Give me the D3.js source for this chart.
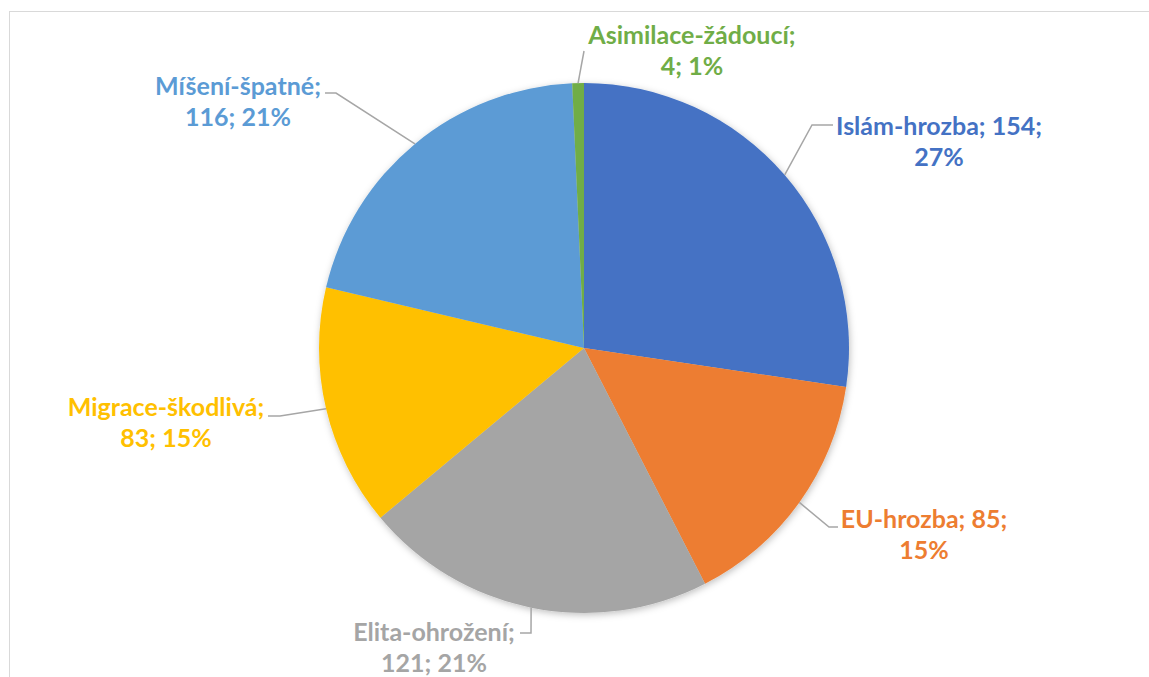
<!DOCTYPE html>
<html lang="cs">
<head>
<meta charset="utf-8">
<title>Pie</title>
<script src="https://d3js.org/d3.v7.min.js"></script>
<style>
  body { margin: 0; background: #fff; }
  text { font-family: Lato, "Open Sans", sans-serif; font-weight: 700; }
</style>
</head>
<body>
<script>

// data
const categories = ["Islám-hrozba", "EU-hrozba", "Elita-ohrožení", "Migrace-škodlivá", "Míšení-špatné", "Asimilace-žádoucí"];
const values = [154, 85, 121, 83, 116, 4];
const colors = ["#4472C4", "#ED7D31", "#A5A5A5", "#FFC000", "#5B9BD5", "#70AD47"];

// label layout: line1, line2, text centre x, first baseline y, elbow x, elbow y, end x
const labelLines = [
  ["Islám-hrozba; 154;", "27%"],
  ["EU-hrozba; 85;", "15%"],
  ["Elita-ohrožení;", "121; 21%"],
  ["Migrace-škodlivá;", "83; 15%"],
  ["Míšení-špatné;", "116; 21%"],
  ["Asimilace-žádoucí;", "4; 1%"]
];
const labelLayout = [
  {x: 939, y: 135, ex: 812, ey: 125, tx: 833},
  {x: 924, y: 528, ex: 829, ey: 527, tx: 838},
  {x: 434, y: 641, ex: 531, ey: 633, tx: 520},
  {x: 166, y: 416, ex: 280, ey: 416, tx: 268},
  {x: 238, y: 95,  ex: 336, ey: 93,  tx: 325},
  {x: 692, y: 44,  ex: 584, ey: 51,  tx: 584}
];

const W = 1149, H = 677;
const cx = 584, cy = 348, r = 265;

const svg = d3.select("body").append("svg")
    .attr("width", W)
    .attr("height", H);

const defs = svg.append("defs");
const f = defs.append("filter").attr("id", "shadow")
    .attr("x", "-10%").attr("y", "-10%").attr("width", "120%").attr("height", "120%");
f.append("feDropShadow")
    .attr("dx", 1).attr("dy", 2).attr("stdDeviation", 3.5)
    .attr("flood-color", "#000").attr("flood-opacity", 0.25);

// chart frame
svg.append("rect")
    .attr("x", 9.5).attr("y", 11.5)
    .attr("width", W + 20).attr("height", H + 20)
    .attr("fill", "none")
    .attr("stroke", "#d9d9d9")
    .attr("stroke-width", 1);

const pie = d3.pie().sort(null).value(d => d)(values);
const arc = d3.arc().innerRadius(0).outerRadius(r);

const g = svg.append("g")
    .attr("transform", `translate(${cx},${cy})`);

g.append("g")
    .attr("filter", "url(#shadow)")
  .selectAll("path")
  .data(pie)
  .join("path")
    .attr("d", arc)
    .attr("fill", (d, i) => colors[i]);

// leader lines
svg.append("g")
  .selectAll("path")
  .data(pie)
  .join("path")
    .attr("fill", "none")
    .attr("stroke", "#a6a6a6")
    .attr("stroke-width", 1.5)
    .attr("d", (d, i) => {
      const a = (d.startAngle + d.endAngle) / 2;
      const px = cx + r * Math.sin(a), py = cy - r * Math.cos(a);
      const L = labelLayout[i];
      return `M${px},${py}L${L.ex},${L.ey}L${L.tx},${L.ey}`;
    });

// labels
const labels = svg.append("g")
  .selectAll("text")
  .data(pie)
  .join("text")
    .attr("text-anchor", "middle")
    .attr("font-size", 25)
    .attr("fill", (d, i) => colors[i])
    .attr("x", (d, i) => labelLayout[i].x)
    .attr("y", (d, i) => labelLayout[i].y);

labels.selectAll("tspan")
  .data((d, i) => labelLines[i].map(t => ({t, x: labelLayout[i].x})))
  .join("tspan")
    .attr("x", d => d.x)
    .attr("dy", (d, j) => j === 0 ? 0 : 31)
    .text(d => d.t);

</script>
</body>
</html>
